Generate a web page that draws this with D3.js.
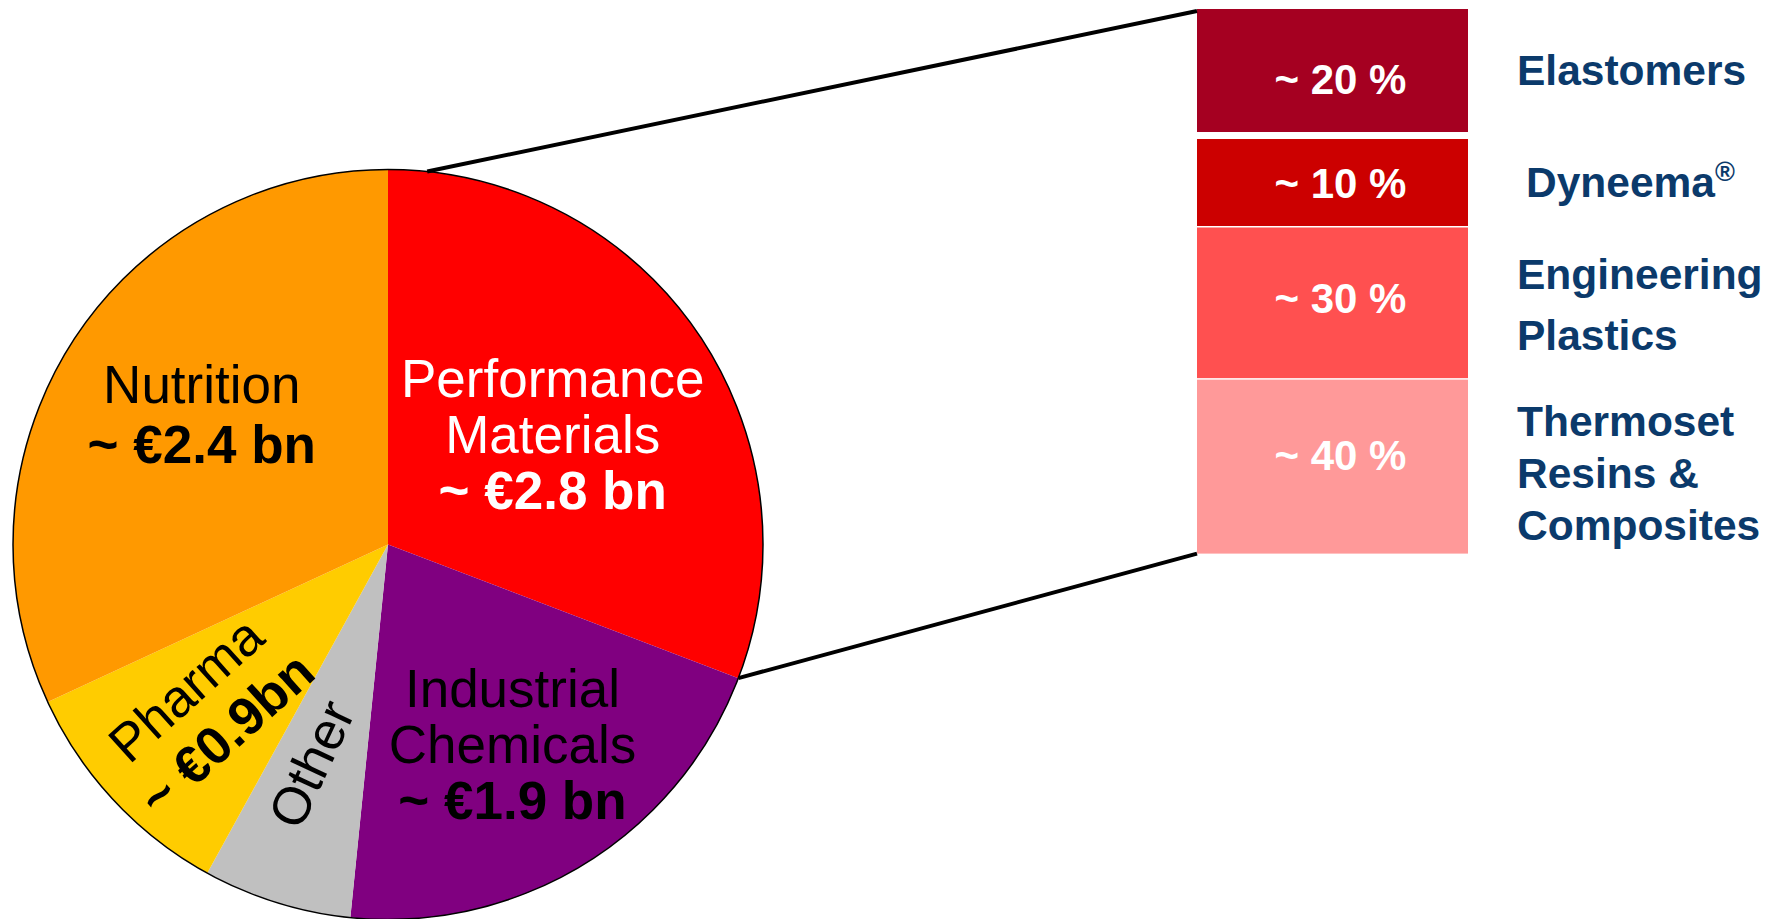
<!DOCTYPE html>
<html>
<head>
<meta charset="utf-8">
<script src="https://cdn.jsdelivr.net/npm/d3@7"></script>
<style>
  html, body { margin: 0; padding: 0; background: #fff; }
  svg { display: block; font-family: "Liberation Sans", Arial, sans-serif; }
</style>
</head>
<body>
<div id="chart"></div>
<script>
// pie: business groups (share of sales)
var segments = ["Performance Materials", "Industrial Chemicals", "Other", "Pharma", "Nutrition"];
var segmentShares = [30.8, 20.8, 6.4, 10.1, 31.9];
var segmentLines = [
    ["Performance", "Materials", "~ €2.8 bn"],
    ["Industrial", "Chemicals", "~ €1.9 bn"],
    ["Other"],
    ["Pharma", "~ €0.9bn"],
    ["Nutrition", "~ €2.4 bn"]
];
var segmentColors = ["#ff0000", "#800080", "#c0c0c0", "#ffcc00", "#ff9900"];

// breakdown of Performance Materials
var subUnits = ["Elastomers", "Dyneema", "Engineering Plastics", "Thermoset Resins & Composites"];
var subShares = [20, 10, 30, 40];
var subLabelLines = [["Elastomers"], ["Dyneema"], ["Engineering", "Plastics"], ["Thermoset", "Resins &", "Composites"]];
var subColors = ["#a50021", "#cc0000", "#ff5050", "#ff9999"];

var width = 1775
var height = 919

var svg = d3.select("#chart")
    .append("svg")
    .attr("width", width)
    .attr("height", height);

var cx = 388, cy = 544.5, radius = 375;

var pie = d3.pie()
    .sort(null)
    .value(function(d) { return d; });

var arcs = pie(segmentShares);

var arc = d3.arc()
    .innerRadius(0)
    .outerRadius(radius);

var pieG = svg.append("g")
    .attr("transform", "translate(" + cx + "," + cy + ")");

pieG.selectAll("path.slice")
    .data(arcs)
    .enter()
    .append("path")
    .attr("class", "slice")
    .attr("d", arc)
    .attr("fill", function(d, i) { return segmentColors[i]; });

// thin outline round the pie only
pieG.append("circle")
    .attr("r", radius)
    .attr("fill", "none")
    .attr("stroke", "#000")
    .attr("stroke-width", 1.5);

// label placement (radius, rotation, text colour, line height, nudge)
var labelLayout = [
    { r: 200, rot: 0, color: "#fff", lh: 56, dx: 0, dy: 3 },
    { r: 237, rot: 0, color: "#000", lh: 56, dx: 0, dy: -2 },
    { r: 232, rot: -65, color: "#000", lh: 56, dx: -8, dy: -2 },
    { r: 245, rot: -42, color: "#000", lh: 60, dx: -3, dy: 0 },
    { r: 221, rot: 0, color: "#000", lh: 60, dx: 0, dy: -11 }
];
var labelFont = 53;

arcs.forEach(function(d, i) {
    var lay = labelLayout[i];
    var c = d3.arc().innerRadius(lay.r).outerRadius(lay.r).centroid(d);
    var lines = segmentLines[i];
    var t = pieG.append("text")
        .attr("transform", "translate(" + (c[0] + lay.dx) + "," + (c[1] + lay.dy) + ") rotate(" + lay.rot + ")")
        .attr("text-anchor", "middle")
        .attr("font-size", labelFont)
        .attr("fill", lay.color);
    lines.forEach(function(line, j) {
        t.append("tspan")
            .attr("x", 0)
            .attr("y", (j - (lines.length - 1) / 2) * lay.lh + 0.35 * labelFont)
            .attr("font-weight", line.indexOf("€") >= 0 ? "bold" : "normal")
            .text(line);
    });
});

// stacked breakdown boxes, heights on a sqrt scale
var boxX = 1197, boxW = 271, boxTop = 9, boxBottom = 553.6;
var gaps = [0, 7, 1.5, 1.5];
var sq = d3.scaleSqrt().domain([0, d3.max(subShares)]).range([0, 1]);
var weights = subShares.map(function(v) { return sq(v); });
var hScale = d3.scaleLinear()
    .domain([0, d3.sum(weights)])
    .range([0, boxBottom - boxTop - d3.sum(gaps)]);

var boxes = [];
var yPos = boxTop;
weights.forEach(function(w, i) {
    yPos += gaps[i];
    boxes.push({ y: yPos, h: hScale(w), share: subShares[i], i: i });
    yPos += hScale(w);
});

var boxG = svg.append("g");

boxG.selectAll("rect")
    .data(boxes)
    .enter()
    .append("rect")
    .attr("x", boxX)
    .attr("y", function(d) { return d.y; })
    .attr("width", boxW)
    .attr("height", function(d) { return d.h; })
    .attr("fill", function(d) { return subColors[d.i]; });

// percentage text sits a little off centre in the original
var pctNudge = [9, 1, -5, -11];
var pctFont = 42;
boxG.selectAll("text.pct")
    .data(boxes)
    .enter()
    .append("text")
    .attr("class", "pct")
    .attr("x", boxX + boxW / 2 + 8)
    .attr("y", function(d) { return d.y + d.h / 2 + pctNudge[d.i] + 0.35 * pctFont; })
    .attr("text-anchor", "middle")
    .attr("font-size", pctFont)
    .attr("font-weight", "bold")
    .attr("fill", "#fff")
    .text(function(d) { return "~ " + d.share + " %"; });

// labels to the right of the boxes
var subFont = 42.5;
var subLh = [0, 0, 61, 52];
var subNudge = [0, 0, 2, 7];
boxes.forEach(function(d, i) {
    var lines = subLabelLines[i];
    var lx = i === 1 ? 1526 : 1517;
    var t = boxG.append("text")
        .attr("x", lx)
        .attr("font-size", subFont)
        .attr("font-weight", "bold")
        .attr("fill", "#0b3a6b");
    lines.forEach(function(line, j) {
        t.append("tspan")
            .attr("x", lx)
            .attr("y", d.y + d.h / 2 + subNudge[i] + (j - (lines.length - 1) / 2) * subLh[i] + 0.35 * subFont)
            .text(line);
    });
    if (i === 1) {
        t.append("tspan")
            .attr("dy", -16)
            .attr("font-size", 27)
            .text("®");
    }
});

// connector lines from the Performance Materials slice to the boxes
var pm = arcs[0];
var topAngle = 6 * Math.PI / 180;
var pTop = [cx + radius * Math.sin(topAngle), cy - radius * Math.cos(topAngle)];
var pBot = [cx + radius * Math.sin(pm.endAngle), cy - radius * Math.cos(pm.endAngle)];

svg.append("line")
    .attr("x1", pTop[0]).attr("y1", pTop[1])
    .attr("x2", boxX).attr("y2", boxTop + 2)
    .attr("stroke", "#000")
    .attr("stroke-width", 4);

svg.append("line")
    .attr("x1", pBot[0]).attr("y1", pBot[1])
    .attr("x2", boxX).attr("y2", boxBottom)
    .attr("stroke", "#000")
    .attr("stroke-width", 4);
</script>
</body>
</html>
